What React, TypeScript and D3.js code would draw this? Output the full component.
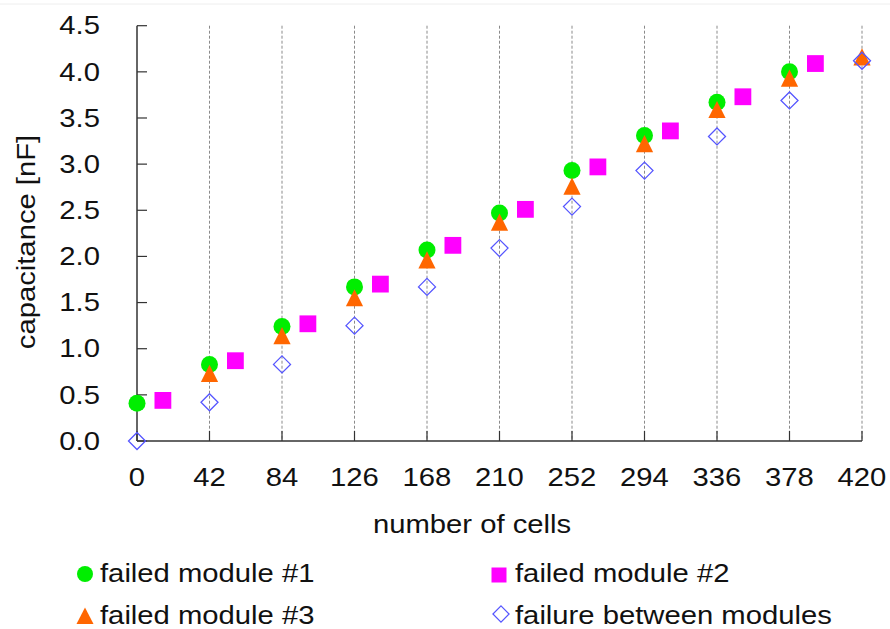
import * as d3 from 'd3';

// x positions (number of cells) and capacitance values [nF]
const cellsA = [0, 42, 84, 126, 168, 210, 252, 294, 336, 378];
const module1 = [0.41, 0.83, 1.24, 1.67, 2.07, 2.47, 2.93, 3.31, 3.67, 4.0];

const cellsB = [15, 57, 99, 141, 183, 225, 267, 309, 351, 393];
const module2 = [0.44, 0.87, 1.27, 1.70, 2.12, 2.51, 2.97, 3.36, 3.73, 4.09];

const cellsC = [42, 84, 126, 168, 210, 252, 294, 336, 378, 420];
const module3 = [0.73, 1.14, 1.55, 1.96, 2.37, 2.76, 3.22, 3.59, 3.93, 4.16];

const cellsD = [0, 42, 84, 126, 168, 210, 252, 294, 336, 378, 420];
const between = [0.0, 0.42, 0.83, 1.25, 1.67, 2.09, 2.54, 2.93, 3.30, 3.69, 4.12];

const xTicks = [0, 42, 84, 126, 168, 210, 252, 294, 336, 378, 420];
const yTicks = [0, 0.5, 1, 1.5, 2, 2.5, 3, 3.5, 4, 4.5];

const GREEN = '#00ee00';
const MAGENTA = '#ff00ff';
const ORANGE = '#ff6600';
const BLUE = '#5555ff';

const FONT = '"Liberation Sans", Arial, sans-serif';
const STRETCH = 1.17; // the original font runs wider than Arial

const circlePath = d3.symbol().type(d3.symbolCircle).size(Math.PI * 8.5 * 8.5)();
const squarePath = 'M-8.4,-8.4H8.4V8.4H-8.4Z';
const trianglePath = 'M0,-8.8L8.6,8.4L-8.6,8.4Z';
const diamondPath = 'M0,-8.5L8.5,0L0,8.5L-8.5,0Z';

const Label = ({ x, y, anchor = 'start', rotate = 0, dy = 0, children }: any) => (
  <text
    transform={`translate(${x},${y}) rotate(${rotate}) scale(${STRETCH},1)`}
    textAnchor={anchor}
    dy={dy}
    fontFamily={FONT}
    fontSize={25}
    fill="#111"
  >
    {children}
  </text>
);

export default function App() {
  const x = d3.scaleLinear().domain([0, 420]).range([137, 862]);
  const y = d3.scaleLinear().domain([0, 4.5]).range([441, 25.7]);
  const [x0, x1] = x.range();
  const [y0, y1] = y.range();

  const markers = (xs: number[], vs: number[], d: string, fill: string, stroke = 'none') =>
    xs.map((c, i) => (
      <path
        key={i}
        d={d}
        transform={`translate(${x(c)},${y(vs[i])})`}
        fill={fill}
        stroke={stroke}
        strokeWidth={stroke === 'none' ? 0 : 1.3}
      />
    ));

  return (
    <svg
      width={890}
      height={629}
      style={{ position: 'absolute', left: 0, top: 0, background: '#fff' }}
    >
      <line x1={0} x2={890} y1={4} y2={4} stroke="#eeeeee" strokeWidth={1} />

      {/* dashed vertical grid */}
      {xTicks.filter(t => t > 0).map(t => (
        <line
          key={t}
          x1={x(t)}
          x2={x(t)}
          y1={y1}
          y2={y0}
          stroke="#8a8a8a"
          strokeWidth={1}
          strokeDasharray="3,2"
        />
      ))}

      {/* axes */}
      <line x1={x0} x2={x0} y1={y1} y2={y0} stroke="#333" strokeWidth={1.5} />
      <line x1={x0} x2={x1} y1={y0} y2={y0} stroke="#333" strokeWidth={1.5} />
      {yTicks.map(t => (
        <g key={t}>
          <line x1={x0} x2={x0 + 10} y1={y(t)} y2={y(t)} stroke="#333" strokeWidth={1.2} />
          <Label x={100} y={y(t)} anchor="end" dy="0.35em">
            {t.toFixed(1)}
          </Label>
        </g>
      ))}
      {xTicks.map(t => (
        <g key={t}>
          <line x1={x(t)} x2={x(t)} y1={y0} y2={y0 - 10} stroke="#333" strokeWidth={1.2} />
          <Label x={x(t)} y={486} anchor="middle">
            {t}
          </Label>
        </g>
      ))}

      <Label x={472} y={533} anchor="middle">
        number of cells
      </Label>
      <Label x={35} y={242} anchor="middle" rotate={-90}>
        capacitance [nF]
      </Label>

      {/* series */}
      {markers(cellsA, module1, circlePath, GREEN)}
      {markers(cellsB, module2, squarePath, MAGENTA)}
      {markers(cellsC, module3, trianglePath, ORANGE)}
      {markers(cellsD, between, diamondPath, 'none', BLUE)}

      {/* legend */}
      <path d={d3.symbol().type(d3.symbolCircle).size(Math.PI * 8 * 8)()} transform="translate(85,574)" fill={GREEN} />
      <Label x={100} y={582}>failed module #1</Label>
      <path d="M-7.5,-7.5H7.5V7.5H-7.5Z" transform="translate(499,575)" fill={MAGENTA} />
      <Label x={515} y={582}>failed module #2</Label>
      <path d="M0,-8.5L8.5,8L-8.5,8Z" transform="translate(85,616)" fill={ORANGE} />
      <Label x={100} y={624}>failed module #3</Label>
      <path d={diamondPath} transform="translate(501,614) scale(0.95)" fill="none" stroke={BLUE} strokeWidth={1.3} />
      <Label x={515} y={624}>failure between modules</Label>
    </svg>
  );
}
